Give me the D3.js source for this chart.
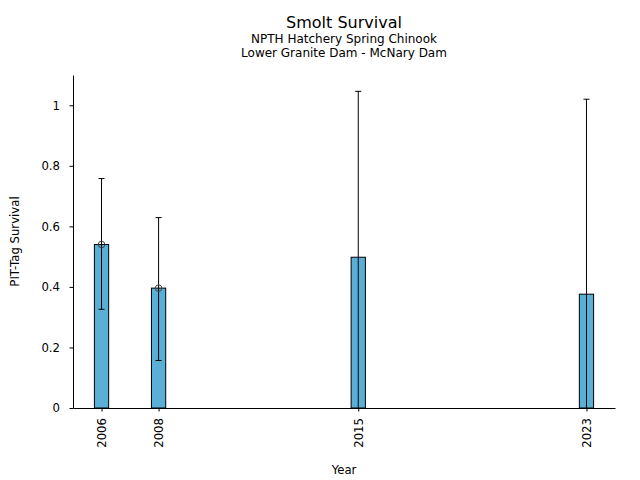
<!DOCTYPE html>
<html>
<head>
<meta charset="utf-8">
<script src="https://cdn.jsdelivr.net/npm/d3@7"></script>
<style>
body{margin:0;background:#fff;}
text{font-family:"DejaVu Sans",sans-serif;fill:#000;}
</style>
</head>
<body>
<svg id="chart" width="640" height="480"></svg>
<script>
const years = [2006, 2008, 2015, 2023];
const survival = [0.540, 0.396, 0.498, 0.376];
const errLower = [0.326, 0.157, -0.050, -0.268];
const errUpper = [0.758, 0.629, 1.046, 1.020];
const showMarker = [true, true, false, false];
const yTicks = [0, 0.2, 0.4, 0.6, 0.8, 1];
const yTickLabels = ["0", "0.2", "0.4", "0.6", "0.8", "1"];

const svg = d3.select("#chart");
const m = {left: 73, right: 615, top: 75, bottom: 408};
const x = d3.scaleLinear().domain([2005, 2024]).range([m.left, m.right]);
const y = d3.scaleLinear().domain([0, 1.1]).range([m.bottom, m.top]);
const barW = x(2005.5) - x(2005);

svg.append("clipPath").attr("id","clip").append("rect")
  .attr("x", m.left).attr("y", m.top).attr("width", m.right - m.left).attr("height", m.bottom - m.top);

const data = years.map((yr,i)=>({yr, v: survival[i], lo: errLower[i], hi: errUpper[i], mk: showMarker[i]}));

const g = svg.append("g").attr("clip-path","url(#clip)");
g.selectAll("rect.bar").data(data).enter().append("rect")
  .attr("x", d=>x(d.yr)-barW/2).attr("width", barW)
  .attr("y", d=>y(d.v)).attr("height", d=>y(0)-y(d.v))
  .attr("fill", "#5aafd7").attr("stroke","#000").attr("stroke-width",1);

g.selectAll("line.err").data(data).enter().append("line")
  .attr("x1", d=>x(d.yr)).attr("x2", d=>x(d.yr))
  .attr("y1", d=>y(d.lo)).attr("y2", d=>y(d.hi))
  .attr("stroke","#000").attr("stroke-width",1);
data.forEach(d=>{
  [d.lo, d.hi].forEach(e=>{
    g.append("line").attr("x1", x(d.yr)-3).attr("x2", x(d.yr)+3)
      .attr("y1", y(e)).attr("y2", y(e)).attr("stroke","#000").attr("stroke-width",1);
  });
});
g.selectAll("circle.mk").data(data.filter(d=>d.mk)).enter().append("circle")
  .attr("cx", d=>x(d.yr)).attr("cy", d=>y(d.v)).attr("r", 3.3)
  .attr("fill","none").attr("stroke","#444").attr("stroke-width",1);

// axes
const xAxis = d3.axisBottom(x).tickValues(years).tickFormat(d3.format("d")).tickSize(3.5).tickSizeOuter(0);
const gx = svg.append("g").attr("transform",`translate(0,${m.bottom})`).call(xAxis);
gx.select(".domain").attr("stroke","#000");
gx.selectAll("text").attr("font-size",11.7)
  .attr("transform","rotate(-90)").attr("text-anchor","end")
  .attr("x",-10).attr("y",0).attr("dy","0.35em");

const yAxis = d3.axisLeft(y).tickValues(yTicks).tickFormat((d,i)=>yTickLabels[i]).tickSize(3.5).tickSizeOuter(0);
const gy = svg.append("g").attr("transform",`translate(${m.left},0)`).call(yAxis);
gy.selectAll("text").attr("font-size",11.7).attr("x",-13);

svg.append("text").attr("x",(m.left+m.right)/2).attr("y",28).attr("text-anchor","middle").attr("font-size",16).text("Smolt Survival");
svg.append("text").attr("x",(m.left+m.right)/2).attr("y",43).attr("text-anchor","middle").attr("font-size",12).text("NPTH Hatchery Spring Chinook");
svg.append("text").attr("x",(m.left+m.right)/2).attr("y",57).attr("text-anchor","middle").attr("font-size",12).text("Lower Granite Dam - McNary Dam");
svg.append("text").attr("x",(m.left+m.right)/2).attr("y",474).attr("text-anchor","middle").attr("font-size",11.7).text("Year");
svg.append("text").attr("transform",`translate(19,${(m.top+m.bottom)/2}) rotate(-90)`).attr("text-anchor","middle").attr("font-size",11.7).text("PIT-Tag Survival");
</script>
</body>
</html>
